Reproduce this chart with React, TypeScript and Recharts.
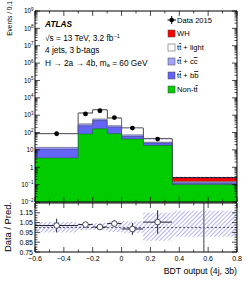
import React from "react";
import {
    ComposedChart,
    Area,
    Scatter,
    XAxis,
    YAxis,
    ErrorBar,
    ReferenceLine,
} from "recharts";

// BDT output (4j, 3b) binning
const binEdges = [-0.6, -0.3, -0.2, -0.1, 0, 0.15, 0.35, 0.8];
const binCenters = [-0.45, -0.25, -0.15, -0.05, 0.075, 0.25];

// expected events per bin, per process
const nonTT = [3.4, 82, 163, 85, 42, 18, 0.1];
const ttbb = [7.6, 161, 327, 120, 17, 7, 0.02];
const ttcc = [3, 73, 120, 45, 15, 3, 0.02];
const ttlight = [71, 984, 1390, 420, 106, 16, 0.013];
const wh = [0.01, 0.03, 0.05, 0.05, 0.08, 0.1, 0.1];

// observed (last bin blinded)
const data2015 = [85, 1180, 1800, 730, 180, 42];

// lower panel
const ratio = [1.02, 1.03, 1.005, 1.04, 0.985, 1.055];
const ratioErr = [0.07, 0.025, 0.02, 0.035, 0.06, 0.12];
const bandLow = [0.95, 0.975, 0.975, 0.955, 0.945, 0.865, 0.905];
const bandHigh = [1.055, 1.045, 1.045, 1.06, 1.065, 1.15, 1.17];

const FONT = "'Liberation Sans', Arial, Helvetica, sans-serif";
const nBins = binEdges.length - 1;

const stackRows = binEdges.map((x, i) => {
    const b = Math.min(i, nBins - 1);
    const c1 = nonTT[b];
    const c2 = c1 + ttbb[b];
    const c3 = c2 + ttcc[b];
    const c4 = c3 + ttlight[b];
    const c5 = c4 + wh[b];
    return { x, nonTT: c1, bb: c2, cc: c3, light: c4, total: c5, unc: [c5 * bandLow[b], c5 * bandHigh[b]] };
});
const dataPts = binCenters.map((x, i) => ({ x, y: data2015[i] }));
const ratioRows = binEdges.map((x, i) => {
    const b = Math.min(i, nBins - 1);
    return { x, band: [bandLow[b], bandHigh[b]] };
});
const ratioPts = binCenters.map((x, i) => ({
    x,
    y: ratio[i],
    ex: (binEdges[i + 1] - binEdges[i]) / 2,
    ey: ratioErr[i],
}));

// axis ticks
const xTicks = Array.from({ length: 15 }, (_, i) => Math.round((-0.6 + i * 0.1) * 10) / 10);
const logTicks: number[] = [];
for (let e = -2; e <= 9; e++) {
    for (let k = 1; k <= 9; k++) {
        if (e === 9 && k > 1) break;
        logTicks.push(k * Math.pow(10, e));
    }
}
const ratioTicks = Array.from({ length: 21 }, (_, i) => Math.round((0.75 + i * 0.025) * 1000) / 1000);

const fmtX = (v: number) => (Math.abs(v) < 1e-9 ? "0" : v < 0 ? `\u2212${Math.abs(v).toFixed(1)}` : v.toFixed(1));
const isMajorX = (v: number) => Math.abs(v * 5 - Math.round(v * 5)) < 1e-6;

const XTickTop = (p: any) => {
    const len = isMajorX(p.payload.value) ? 5 : 2.5;
    return <line x1={p.x} x2={p.x} y1={p.y} y2={p.y + len} stroke="#000" strokeWidth={0.7} />;
};

const XTickBottom = (p: any) => {
    const len = isMajorX(p.payload.value) ? 5 : 2.5;
    return <line x1={p.x} x2={p.x} y1={p.y} y2={p.y - len} stroke="#000" strokeWidth={0.7} />;
};

const XTickBottomLabel = (p: any) => {
    const v = p.payload.value;
    const major = isMajorX(v);
    return (
        <g>
            <line x1={p.x} x2={p.x} y1={p.y} y2={p.y - (major ? 5 : 2.5)} stroke="#000" strokeWidth={0.7} />
            {major ? (
                <text x={p.x} y={p.y + 8.8} textAnchor="middle" fontSize={7} fontFamily={FONT} fill="#000">
                    {fmtX(v)}
                </text>
            ) : null}
        </g>
    );
};

const LogTick = (p: any) => {
    const { x, y, payload, side } = p;
    const v = payload.value;
    const l = Math.log10(v);
    const e = Math.round(l);
    const major = Math.abs(l - e) < 1e-6;
    const len = major ? 5 : 2.5;
    const dir = side === "right" ? -1 : 1;
    let label = null;
    if (side === "left" && major) {
        label =
            e === 0 || e === 1 ? (
                <text x={x - 1.5} y={y + 2.3} textAnchor="end" fontSize={6.3} fontFamily={FONT} fill="#000">
                    {e === 0 ? "1" : "10"}
                </text>
            ) : (
                <text x={x - 1.5} y={y + 2.3} textAnchor="end" fontSize={6.3} fontFamily={FONT} fill="#000">
                    10
                    <tspan dy={-2.7} fontSize={4.5}>
                        {e < 0 ? `\u2212${-e}` : e}
                    </tspan>
                </text>
            );
    }
    return (
        <g>
            <line x1={x} x2={x + dir * len} y1={y} y2={y} stroke="#000" strokeWidth={0.7} />
            {label}
        </g>
    );
};

const RatioTick = (p: any) => {
    const { x, y, payload, side } = p;
    const v = payload.value;
    const q = (v - 0.75) / 0.1;
    const major = Math.abs(q - Math.round(q)) < 1e-6 && v < 1.2;
    const len = major ? 5 : 2.5;
    const dir = side === "right" ? -1 : 1;
    return (
        <g>
            <line x1={x} x2={x + dir * len} y1={y} y2={y} stroke="#000" strokeWidth={0.7} />
            {side === "left" && major && (
                <text x={x - 2} y={y + 2.5} textAnchor="end" fontSize={7} fontFamily={FONT} fill="#000">
                    {v.toFixed(2)}
                </text>
            )}
        </g>
    );
};

const axisLine = { stroke: "#000", strokeWidth: 1 };

const Tbar = () => (
    <>
        t<tspan textDecoration="overline">t</tspan>
    </>
);

const legendRows = [
    { label: "WH", fill: "#ff0000" },
    { label: "light", fill: "#ffffff" },
    { label: "cc", fill: "#a3a3ff" },
    { label: "bb", fill: "#6464f6" },
    { label: "nontt", fill: "#00cc00" },
];

const LegendText = ({ k }: { k: string }) => {
    if (k === "WH") return <>WH</>;
    if (k === "light") return <><Tbar /> + light</>;
    if (k === "cc") return <><Tbar /> + c<tspan textDecoration="overline">c</tspan></>;
    if (k === "bb") return <><Tbar /> + b<tspan textDecoration="overline">b</tspan></>;
    return <>Non-<Tbar /></>;
};

export default function App() {
    return (
        <div style={{ position: "absolute", left: 0, top: 0, width: 249, height: 281, background: "#fff" }}>
            <div style={{ position: "absolute", left: 0, top: 0 }}>
                <ComposedChart width={249} height={204} data={stackRows} margin={{ top: 10, right: 11, bottom: 1, left: 0 }}>
                    <defs>
                        <pattern id="hatchMain" width="3" height="3" patternUnits="userSpaceOnUse" patternTransform="rotate(45)">
                            <line x1="0" y1="0" x2="0" y2="3" stroke="#5c5ce0" strokeWidth="1" />
                        </pattern>
                    </defs>
                    <XAxis xAxisId="b" dataKey="x" type="number" domain={[-0.6, 0.8]} ticks={xTicks} interval={0}
                        height={1} tickSize={0} tickMargin={0} axisLine={axisLine} tickLine={false}
                        tick={XTickBottom} allowDataOverflow />
                    <XAxis xAxisId="t" orientation="top" dataKey="x" type="number" domain={[-0.6, 0.8]} ticks={xTicks} interval={0}
                        height={1} tickSize={0} tickMargin={0} axisLine={axisLine} tickLine={false}
                        tick={XTickTop} allowDataOverflow />
                    <YAxis yAxisId="l" type="number" scale="log" domain={[0.01, 1e9]} ticks={logTicks} interval={0}
                        width={35} tickSize={0} tickMargin={0} axisLine={axisLine} tickLine={false}
                        tick={(p: any) => <LogTick {...p} side="left" />} allowDataOverflow />
                    <YAxis yAxisId="r" orientation="right" type="number" scale="log" domain={[0.01, 1e9]} ticks={logTicks} interval={0}
                        width={1} tickSize={0} tickMargin={0} axisLine={axisLine} tickLine={false}
                        tick={(p: any) => <LogTick {...p} side="right" />} allowDataOverflow />
                    <Area xAxisId="b" yAxisId="l" type="stepAfter" dataKey="total" baseValue={0.01} fill="#ff0000" fillOpacity={1}
                        stroke="#000" strokeWidth={1} dot={false} activeDot={false} isAnimationActive={false} />
                    <Area xAxisId="b" yAxisId="l" type="stepAfter" dataKey="light" baseValue={0.01} fill="#ffffff" fillOpacity={1}
                        stroke="#555" strokeWidth={0.5} dot={false} activeDot={false} isAnimationActive={false} />
                    <Area xAxisId="b" yAxisId="l" type="stepAfter" dataKey="cc" baseValue={0.01} fill="#a3a3ff" fillOpacity={1}
                        stroke="#444" strokeWidth={0.5} dot={false} activeDot={false} isAnimationActive={false} />
                    <Area xAxisId="b" yAxisId="l" type="stepAfter" dataKey="bb" baseValue={0.01} fill="#6464f6" fillOpacity={1}
                        stroke="#333366" strokeWidth={0.5} dot={false} activeDot={false} isAnimationActive={false} />
                    <Area xAxisId="b" yAxisId="l" type="stepAfter" dataKey="nonTT" baseValue={0.01} fill="#00cc00" fillOpacity={1}
                        stroke="#116611" strokeWidth={0.5} dot={false} activeDot={false} isAnimationActive={false} />
                    <Area xAxisId="b" yAxisId="l" type="stepAfter" dataKey="unc" fill="url(#hatchMain)" fillOpacity={1}
                        stroke="none" dot={false} activeDot={false} isAnimationActive={false} />
                    <Scatter xAxisId="b" yAxisId="l" data={dataPts} dataKey="y" isAnimationActive={false}
                        shape={(p: any) => <circle cx={p.cx} cy={p.cy} r={2.4} fill="#000" />} />
                </ComposedChart>
            </div>
            <div style={{ position: "absolute", left: 0, top: 200 }}>
                <ComposedChart width={249} height={81} data={ratioRows} margin={{ top: 2, right: 11, bottom: 28, left: 0 }}>
                    <defs>
                        <pattern id="hatchRatio" width="3" height="3" patternUnits="userSpaceOnUse" patternTransform="rotate(45)">
                            <line x1="0" y1="0" x2="0" y2="3" stroke="#6a6ae8" strokeWidth="1" />
                        </pattern>
                    </defs>
                    <XAxis xAxisId="b" dataKey="x" type="number" domain={[-0.6, 0.8]} ticks={xTicks} interval={0}
                        height={1} tickSize={0} tickMargin={0} axisLine={axisLine} tickLine={false}
                        tick={XTickBottomLabel} allowDataOverflow />
                    <XAxis xAxisId="t" orientation="top" dataKey="x" type="number" domain={[-0.6, 0.8]} ticks={xTicks} interval={0}
                        height={1} tickSize={0} tickMargin={0} axisLine={axisLine} tickLine={false}
                        tick={XTickTop} allowDataOverflow />
                    <YAxis yAxisId="l" type="number" domain={[0.75, 1.25]} ticks={ratioTicks} interval={0}
                        width={35} tickSize={0} tickMargin={0} axisLine={axisLine} tickLine={false}
                        tick={(p: any) => <RatioTick {...p} side="left" />} allowDataOverflow />
                    <YAxis yAxisId="r" orientation="right" type="number" domain={[0.75, 1.25]} ticks={ratioTicks} interval={0}
                        width={1} tickSize={0} tickMargin={0} axisLine={axisLine} tickLine={false}
                        tick={(p: any) => <RatioTick {...p} side="right" />} allowDataOverflow />
                    <Area xAxisId="b" yAxisId="l" type="stepAfter" dataKey="band" fill="url(#hatchRatio)" fillOpacity={1}
                        stroke="none" dot={false} activeDot={false} isAnimationActive={false} />
                    <ReferenceLine xAxisId="b" yAxisId="l" y={1} stroke="#333355" strokeWidth={0.8} strokeDasharray="2 2" />
                    <ReferenceLine xAxisId="b" yAxisId="l" x={0.57} stroke="#808080" strokeWidth={1.5} />
                    <Scatter xAxisId="b" yAxisId="l" data={ratioPts} dataKey="y" isAnimationActive={false}
                        shape={(p: any) => <circle cx={p.cx} cy={p.cy} r={2.8} fill="#fff" stroke="#223" strokeWidth={0.8} />}>
                        <ErrorBar dataKey="ex" direction="x" width={0} stroke="#223" strokeWidth={1} />
                        <ErrorBar dataKey="ey" direction="y" width={0} stroke="#223" strokeWidth={1} />
                    </Scatter>
                </ComposedChart>
            </div>
            <svg width={249} height={281} style={{ position: "absolute", left: 0, top: 0, pointerEvents: "none" }}
                fontFamily={FONT} fill="#000">
                <text transform="translate(11.5,1) rotate(-90)" textAnchor="end" fontSize={6.6}>Events / 0.1</text>
                <text transform="translate(10.5,202) rotate(-90)" textAnchor="end" fontSize={9.4}>Data / Pred.</text>
                <text x={237} y={273.5} textAnchor="end" fontSize={8.7}>BDT output (4j, 3b)</text>

                <text x={45} y={27} fontSize={8.3} fontWeight="bold" fontStyle="italic">ATLAS</text>
                <text x={45} y={40.5} fontSize={8.3}>
                    √s = 13 TeV, 3.2 fb<tspan dy={-3} fontSize={5.5}>−1</tspan>
                </text>
                <text x={45} y={53} fontSize={8.3}>4 jets, 3 b-tags</text>
                <text x={45} y={65.5} fontSize={8.3}>
                    H → 2a → 4b, m<tspan dy={1.8} fontSize={5.5}>a</tspan>
                    <tspan dy={-1.8}> = 60 GeV</tspan>
                </text>

                <line x1={167.5} x2={176} y1={20} y2={20} stroke="#000" strokeWidth={1} />
                <line x1={171.7} x2={171.7} y1={16} y2={24} stroke="#000" strokeWidth={1} />
                <circle cx={171.7} cy={20} r={2.3} fill="#000" />
                <text x={177} y={22.7} fontSize={7.6}>Data 2015</text>
                {legendRows.map((r, i) => {
                    const cy = 33.5 + i * 14;
                    return (
                        <g key={r.label}>
                            <rect x={168} y={cy - 3.5} width={7} height={7} fill={r.fill} stroke="#444" strokeWidth={0.5} />
                            <text x={177} y={cy + 2.7} fontSize={7.6}>
                                <LegendText k={r.label} />
                            </text>
                        </g>
                    );
                })}
            </svg>
        </div>
    );
}
